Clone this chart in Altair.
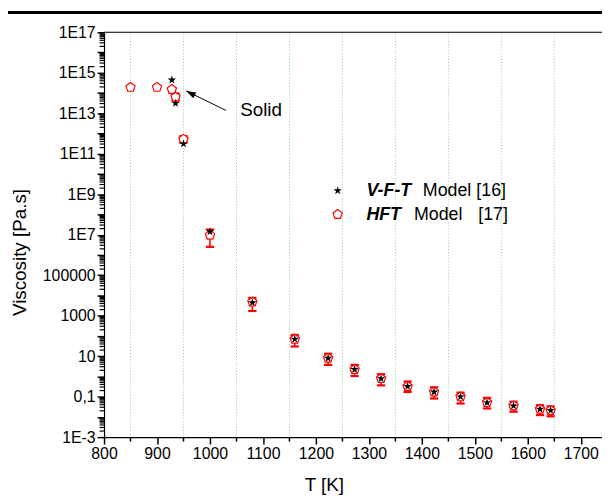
import altair as alt
import pandas as pd

# ---------------- data ----------------
# V-F-T model (black stars)
vft_T = [928, 935, 950, 1000, 1080, 1160, 1223, 1273, 1323, 1373, 1423, 1473, 1523, 1573, 1623, 1643]
vft_eta = [4.4e14, 3.1e13, 3.1e11, 1.4e7, 4.4e3, 69, 7.9, 2.2, 0.78, 0.32, 0.17, 0.098, 0.051, 0.035, 0.024, 0.021]

# HFT model (open red pentagons)
hft_T = [850, 900, 928, 935, 950, 1000, 1080, 1160, 1223, 1273, 1323, 1373, 1423, 1473, 1523, 1573, 1623, 1643]
hft_eta = [1.9e14, 1.9e14, 1.5e14, 6.3e13, 5.2e11, 9.5e6, 4.7e3, 69, 7.9, 2.2, 0.78, 0.32, 0.17, 0.098, 0.051, 0.035, 0.024, 0.021]

# HFT error bars
err_T = [935, 950, 1000, 1080, 1160, 1223, 1273, 1323, 1373, 1423, 1473, 1523, 1573, 1623, 1643]
err_low = [4.2e13, 3.5e11, 2.5e6, 1.7e3, 30, 3.7, 1.05, 0.36, 0.17, 0.081, 0.046, 0.026, 0.018, 0.0123, 0.0107]
err_high = [9.5e13, 7.4e11, 1.8e7, 7.6e3, 112, 13.2, 3.7, 1.29, 0.56, 0.29, 0.158, 0.087, 0.056, 0.038, 0.033]

# dotted green vertical grid lines
grid_T = [850, 950, 1050, 1150, 1250, 1350, 1450, 1550, 1650]

# axis ticks
x_major = [800, 900, 1000, 1100, 1200, 1300, 1400, 1500, 1600, 1700]
x_minor = [850, 950, 1050, 1150, 1250, 1350, 1450, 1550, 1650]
y_major = [1e-3, 1e-2, 1e-1, 1e0, 1e1, 1e2, 1e3, 1e4, 1e5, 1e6, 1e7, 1e8, 1e9, 1e10,
           1e11, 1e12, 1e13, 1e14, 1e15, 1e16, 1e17]
y_decades = list(range(-3, 17))
y_mantissas = [2, 3, 4, 5, 6, 7, 8, 9]
y_minor = [float(f"{m}e{e}") for e in y_decades for m in y_mantissas]

# annotation
solid_label = ["Solid"]
solid_T = [1057]
solid_eta = [6.9e12]
arrow_tail_T = [1030]
arrow_tail_eta = [1.38e13]
arrow_head_T = [955]
arrow_head_eta = [1.26e14]

FONT = "Liberation Sans"
STAR = "M0,-1L0.2245,-0.309L0.951,-0.309L0.363,0.118L0.588,0.809L0,0.382L-0.588,0.809L-0.363,0.118L-0.951,-0.309L-0.2245,-0.309Z"
PENT = "M0,-1L0.951,-0.309L0.588,0.809L-0.588,0.809L-0.951,-0.309Z"
HEAD = "M0,0L0.33,1L-0.33,1Z"

W, H = 503, 409

xscale = alt.Scale(domain=[800, 1740], nice=False, zero=False)
yscale = alt.Scale(type="log", domain=[1e-3, 1e17], nice=False)

E = "round(log(datum.value)/LN10)"
ylabel = (f"({E} % 2 != 0) ? "
          f"({E} >= 7 ? '1E' + {E} : {E} == 5 ? '100000' : {E} == 3 ? '1000' : "
          f"{E} == 1 ? '10' : {E} == -1 ? '0,1' : '1E' + {E}) : ''")

xaxis = alt.Axis(
    values=x_major, format="d",
    tickSize=7, grid=False, domainColor="black", tickColor="black", domainWidth=1.2, tickWidth=1.5,
    labelFont=FONT, labelFontSize=16, labelColor="black", labelPadding=2,
    labelFlush=False, labelOverlap=False, labelBound=False,
    title="T [K]", titleFont=FONT, titleFontSize=19, titleFontWeight="normal",
    titleColor="black", titleX=222, titleY=54, titleAlign="center", titleBaseline="alphabetic",
)
yaxis = alt.Axis(
    values=y_major,
    labelExpr=ylabel,
    tickSize=7, grid=False, domainColor="black", tickColor="black", domainWidth=1.2, tickWidth=1.5,
    labelFont=FONT, labelFontSize=16, labelColor="black", labelPadding=2,
    labelFlush=False, labelOverlap=False, labelBound=False,
    title="Viscosity [Pa.s]", titleFont=FONT, titleFontSize=19, titleFontWeight="normal",
    titleColor="black", titleX=-85, titleY=222, titleAngle=-90,
    titleAlign="center", titleBaseline="middle",
)


def X(field="T"):
    return alt.X(f"{field}:Q", scale=xscale, axis=xaxis)


def Y(field="eta"):
    return alt.Y(f"{field}:Q", scale=yscale, axis=yaxis)


vft_df = pd.DataFrame({"T": vft_T, "eta": vft_eta})
hft_df = pd.DataFrame({"T": hft_T, "eta": hft_eta})
err_df = pd.DataFrame({"T": err_T, "low": err_low, "high": err_high})
grid_df = pd.DataFrame({"T": grid_T})
xminor_df = pd.DataFrame({"T": x_minor})
yminor_df = pd.DataFrame({"eta": y_minor})
ann_df = pd.DataFrame({"T": solid_T, "eta": solid_eta, "label": solid_label})
arrow_df = pd.DataFrame({"T": arrow_tail_T, "eta": arrow_tail_eta,
                         "T2": arrow_head_T, "eta2": arrow_head_eta})
one = pd.DataFrame({"a": [0]})

grid = alt.Chart(grid_df).mark_rule(color="#86dc86", strokeDash=[1, 2], strokeWidth=1).encode(x=X())

xminor = alt.Chart(xminor_df).mark_rule(color="black", strokeWidth=1.5).encode(
    x=X(), y=alt.value(H), y2=alt.value(H + 4.5))
yminor = alt.Chart(yminor_df).mark_rule(color="black", strokeWidth=1.2).encode(
    y=Y(), x=alt.value(-4.5), x2=alt.value(0))

err_rule = alt.Chart(err_df).mark_rule(color="red", strokeWidth=1.6).encode(
    x=X(), y=Y("low"), y2="high")
cap_low = alt.Chart(err_df).mark_point(shape="stroke", size=70, color="red", strokeWidth=2.2,
                                       opacity=1).encode(x=X(), y=Y("low"))
cap_high = alt.Chart(err_df).mark_point(shape="stroke", size=70, color="red", strokeWidth=2.2,
                                        opacity=1).encode(x=X(), y=Y("high"))

pent = alt.Chart(hft_df).mark_point(shape=PENT, size=96, filled=True, fill="white", stroke="red",
                                    strokeWidth=1.2, opacity=1).encode(x=X(), y=Y())
star = alt.Chart(vft_df).mark_point(shape=STAR, size=80, filled=True, color="black",
                                    opacity=1).encode(x=X(), y=Y())

arrow_line = alt.Chart(arrow_df).mark_rule(color="black", strokeWidth=1).encode(
    x=X(), y=Y(), x2="T2", y2="eta2")
arrow_head = alt.Chart(arrow_df).mark_point(shape=HEAD, size=380, filled=True, color="black",
                                            angle=297, opacity=1).encode(
    x=X("T2"), y=Y("eta2"))
solid_text = alt.Chart(ann_df).mark_text(font=FONT, fontSize=19, align="left",
                                         baseline="alphabetic", color="black").encode(
    x=X(), y=Y(), text="label:N")

# legend (hand-built, pixel positions within the plot)
leg = []
leg.append(alt.Chart(one).mark_point(shape=STAR, size=80, filled=True, color="black", opacity=1).encode(
    x=alt.value(236), y=alt.value(160)))
leg.append(alt.Chart(one).mark_point(shape=PENT, size=96, filled=True, fill="white", stroke="red",
                                     strokeWidth=1.2, opacity=1).encode(
    x=alt.value(236), y=alt.value(184)))
legend_items = [
    ("V-F-T", 265, 160, True),
    ("Model [16]", 322, 160, False),
    ("HFT", 265, 185, True),
    ("Model", 313, 185, False),
    ("[17]", 378, 185, False),
]
for txt, px, py, bold in legend_items:
    leg.append(alt.Chart(one).mark_text(
        font=FONT, fontSize=18, align="left", baseline="middle", color="black",
        fontWeight="bold" if bold else "normal", fontStyle="italic" if bold else "normal",
    ).encode(x=alt.value(px), y=alt.value(py), text=alt.value(txt)))

top_line = alt.Chart(one).mark_rule(color="black", strokeWidth=1.2).encode(
    x=alt.value(0), x2=alt.value(W), y=alt.value(0))
page_line = alt.Chart(one).mark_rule(color="black", strokeWidth=3).encode(
    x=alt.value(-97), x2=alt.value(W), y=alt.value(-20))

chart = alt.layer(
    grid, xminor, yminor, err_rule, cap_low, cap_high, pent, star,
    arrow_line, arrow_head, solid_text, *leg, top_line, page_line,
).properties(
    width=W, height=H,
    autosize=alt.AutoSizeParams(type="none"),
    padding={"left": 97, "top": 22, "right": 0, "bottom": 60},
).configure_view(stroke=None).configure(background="white")

chart.save("out.html", embed_options={"renderer": "svg", "actions": False})
